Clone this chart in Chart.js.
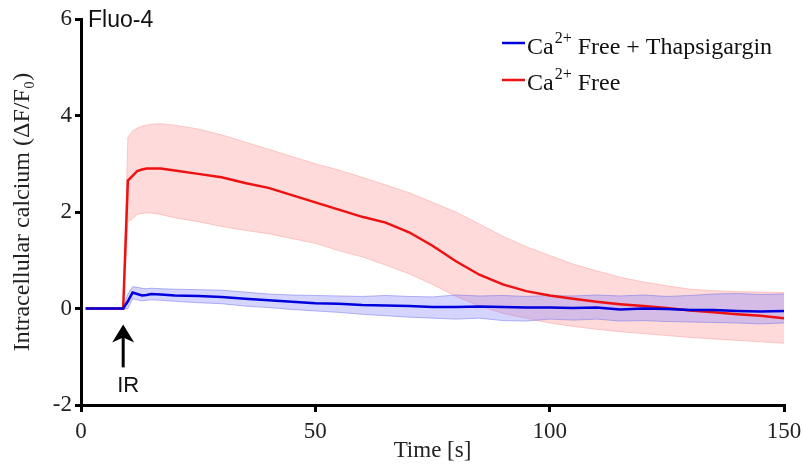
<!DOCTYPE html>
<html>
<head>
<meta charset="utf-8">
<script src="https://cdn.jsdelivr.net/npm/chart.js@4.4.0/dist/chart.umd.min.js"></script>
<style>
  html, body { margin: 0; padding: 0; background: #fff; }
  #wrap { width: 803px; height: 465px; }
</style>
</head>
<body>
<div id="wrap"><canvas id="calciumChart"></canvas></div>
<script>
// time points (s)
const times = [1, 3, 5, 7, 9, 10, 11, 12, 13, 14, 15, 17, 20, 25, 30, 35, 40, 45, 50, 55, 60, 65, 70, 75, 80, 85, 90, 95, 100, 105, 110, 115, 120, 125, 130, 135, 140, 145, 150];

// Ca2+ Free (red) mean and band
const freeMean  = [0, 0, 0, 0, 0, 2.65, 2.75, 2.85, 2.88, 2.9, 2.9, 2.9, 2.86, 2.79, 2.72, 2.6, 2.5, 2.35, 2.2, 2.05, 1.9, 1.78, 1.58, 1.3, 0.98, 0.7, 0.5, 0.36, 0.27, 0.2, 0.14, 0.09, 0.05, 0.01, -0.04, -0.08, -0.12, -0.15, -0.2];
const freeUpper = [0.02, 0.02, 0.02, 0.02, 0.02, 3.55, 3.68, 3.74, 3.78, 3.8, 3.82, 3.83, 3.8, 3.72, 3.6, 3.45, 3.3, 3.15, 3.0, 2.87, 2.72, 2.56, 2.4, 2.2, 2.0, 1.75, 1.5, 1.28, 1.1, 0.92, 0.78, 0.65, 0.55, 0.47, 0.4, 0.37, 0.35, 0.34, 0.33];
const freeLower = [-0.02, -0.02, -0.02, -0.02, -0.02, 1.8, 1.86, 1.95, 1.97, 1.98, 1.98, 1.95, 1.88, 1.8, 1.7, 1.62, 1.55, 1.45, 1.35, 1.2, 1.07, 0.9, 0.72, 0.5, 0.25, 0.05, -0.1, -0.2, -0.3, -0.37, -0.43, -0.48, -0.52, -0.56, -0.6, -0.63, -0.66, -0.69, -0.72];

// Ca2+ Free + Thapsigargin (blue) mean and band
const thapMean  = [0, 0, 0, 0, 0, 0.15, 0.33, 0.3, 0.27, 0.28, 0.3, 0.29, 0.27, 0.26, 0.24, 0.2, 0.17, 0.14, 0.11, 0.1, 0.07, 0.06, 0.05, 0.03, 0.03, 0.04, 0.03, 0.02, 0.02, 0.01, 0.02, -0.02, 0.0, -0.01, -0.03, -0.03, -0.05, -0.06, -0.05];
const thapUpper = [0.02, 0.02, 0.02, 0.02, 0.02, 0.3, 0.45, 0.44, 0.42, 0.41, 0.42, 0.41, 0.4, 0.39, 0.38, 0.34, 0.3, 0.28, 0.27, 0.26, 0.25, 0.27, 0.25, 0.24, 0.28, 0.26, 0.27, 0.25, 0.27, 0.26, 0.28, 0.26, 0.28, 0.25, 0.27, 0.3, 0.31, 0.29, 0.3];
const thapLower = [-0.02, -0.02, -0.02, -0.02, -0.02, 0.0, 0.2, 0.18, 0.16, 0.17, 0.18, 0.17, 0.15, 0.12, 0.1, 0.05, 0.02, -0.02, -0.05, -0.08, -0.12, -0.15, -0.18, -0.2, -0.22, -0.2, -0.25, -0.26, -0.22, -0.24, -0.22, -0.26, -0.25, -0.27, -0.28, -0.29, -0.3, -0.32, -0.3];

const xTicks = [0, 50, 100, 150];
const yTicks = [-2, 0, 2, 4, 6];

const pts = arr => times.map((t, i) => ({ x: t, y: arr[i] }));

// arrow, title and legend drawn on top
const extras = {
  id: "extras",
  afterDatasetsDraw(chart) {
    const { ctx, chartArea, scales: { x, y } } = chart;
    ctx.save();

    // IR arrow
    const ax = x.getPixelForValue(9);
    const tip = y.getPixelForValue(-0.33);
    const bot = y.getPixelForValue(-1.22);
    ctx.strokeStyle = "#000";
    ctx.fillStyle = "#000";
    ctx.lineWidth = 3;
    ctx.beginPath();
    ctx.moveTo(ax, bot);
    ctx.lineTo(ax, tip + 12);
    ctx.stroke();
    ctx.beginPath();
    ctx.moveTo(ax, tip);
    ctx.lineTo(ax - 11, tip + 18);
    ctx.lineTo(ax, tip + 13);
    ctx.lineTo(ax + 11, tip + 18);
    ctx.closePath();
    ctx.fill();
    ctx.fillStyle = "#111";
    ctx.font = "22px 'Liberation Sans', Arial, sans-serif";
    ctx.textAlign = "center";
    ctx.textBaseline = "middle";
    ctx.fillText("IR", ax + 5, y.getPixelForValue(-1.6));

    // panel title
    ctx.textAlign = "left";
    ctx.textBaseline = "alphabetic";
    ctx.font = "23px 'Liberation Sans', Arial, sans-serif";
    ctx.fillText("Fluo-4", chartArea.left + 7, 27);

    // legend
    const rows = [
      { color: "#0000dd", text: " Free + Thapsigargin", y: 43, base: 54 },
      { color: "#ee1111", text: " Free", y: 80, base: 90 }
    ];
    const lx = 502;
    rows.forEach(r => {
      ctx.strokeStyle = r.color;
      ctx.lineWidth = 2.5;
      ctx.beginPath();
      ctx.moveTo(lx, r.y);
      ctx.lineTo(lx + 23, r.y);
      ctx.stroke();
      ctx.fillStyle = "#111";
      ctx.font = "24px 'Liberation Serif', 'Times New Roman', serif";
      let tx = lx + 25;
      ctx.fillText("Ca", tx, r.base);
      tx += ctx.measureText("Ca").width + 1;
      ctx.font = "16px 'Liberation Serif', 'Times New Roman', serif";
      ctx.fillText("2+", tx, r.base - 11);
      tx += ctx.measureText("2+").width;
      ctx.font = "24px 'Liberation Serif', 'Times New Roman', serif";
      ctx.fillText(r.text, tx, r.base);
    });
    ctx.restore();
  }
};

const serif = "'Liberation Serif', 'Times New Roman', serif";

new Chart(document.getElementById("calciumChart"), {
  type: "line",
  data: {
    datasets: [
      { label: "Ca2+ Free + Thapsigargin", data: pts(thapMean), borderColor: "#0000dd", borderWidth: 2.5, pointRadius: 0, fill: false, order: 0 },
      { label: "Ca2+ Free", data: pts(freeMean), borderColor: "#ee1111", borderWidth: 2.5, pointRadius: 0, fill: false, order: 1 },
      { label: "thap upper", data: pts(thapUpper), borderColor: "rgba(110,110,230,0.5)", borderWidth: 1, pointRadius: 0, fill: 3, backgroundColor: "rgba(130,130,255,0.34)", order: 2 },
      { label: "thap lower", data: pts(thapLower), borderColor: "rgba(110,110,230,0.5)", borderWidth: 1, pointRadius: 0, fill: false, order: 2 },
      { label: "free upper", data: pts(freeUpper), borderColor: "rgba(250,170,170,0.6)", borderWidth: 1, pointRadius: 0, fill: 5, backgroundColor: "rgba(255,150,150,0.35)", order: 4 },
      { label: "free lower", data: pts(freeLower), borderColor: "rgba(250,170,170,0.6)", borderWidth: 1, pointRadius: 0, fill: false, order: 4 }
    ]
  },
  options: {
    responsive: true,
    maintainAspectRatio: false,
    animation: false,
    layout: { padding: { left: 0, right: 19, top: 19, bottom: 0 } },
    plugins: {
      legend: { display: false },
      tooltip: { enabled: false }
    },
    scales: {
      x: {
        type: "linear",
        min: 0,
        max: 150,
        afterFit(scale) {
          scale.height = 60;
          scale.paddingLeft = 0;
          scale.paddingRight = 0;
        },
        afterBuildTicks(scale) { scale.ticks = xTicks.map(v => ({ value: v })); },
        border: { display: true, color: "#000", width: 3 },
        grid: { drawOnChartArea: false, drawTicks: true, tickLength: 7, color: "#000", lineWidth: 3 },
        ticks: { color: "#222", font: { family: serif, size: 23 }, padding: 6 },
        title: { display: true, text: "Time [s]", color: "#222", font: { family: serif, size: 23 }, padding: { top: 0, bottom: 0 } }
      },
      y: {
        min: -2,
        max: 6,
        afterFit(scale) { scale.width = 81; },
        afterBuildTicks(scale) { scale.ticks = yTicks.map(v => ({ value: v })); },
        border: { display: true, color: "#000", width: 3 },
        grid: { drawOnChartArea: false, drawTicks: true, tickLength: 6, color: "#000", lineWidth: 3 },
        ticks: { color: "#222", font: { family: serif, size: 23 }, padding: 3 },
        title: { display: true, text: "Intracellular calcium (ΔF/F₀)", color: "#222", font: { family: serif, size: 24 }, padding: { top: 8, bottom: 0 } }
      }
    }
  },
  plugins: [extras]
});
</script>
</body>
</html>
